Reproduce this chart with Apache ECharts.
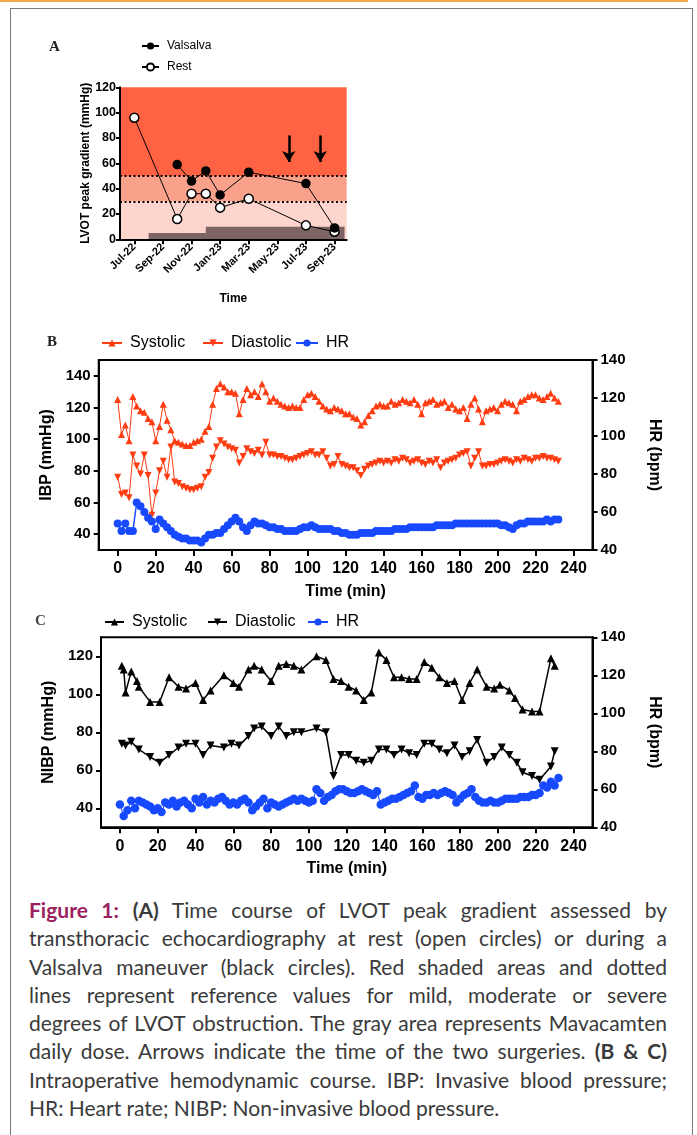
<!DOCTYPE html>
<html><head><meta charset="utf-8">
<script src="https://cdn.jsdelivr.net/npm/echarts@6/dist/echarts.min.js"></script>
<style>
html,body{margin:0;padding:0;background:#fff;width:697px;height:1135px;overflow:hidden;}
#topline{position:absolute;left:0;top:0;width:688px;height:2px;background:#f5a84b;}
#frame{position:absolute;left:10px;top:8px;width:683px;height:1160px;border:1px solid #7a7a7a;box-sizing:border-box;}
#chart{position:absolute;left:0;top:0;width:697px;height:890px;}
#caption{position:absolute;left:29px;top:896px;width:638px;font-family:Lato,'Open Sans',sans-serif;font-size:21px;line-height:28.3px;color:#3a3a3a;}
#caption .l{white-space:nowrap;text-align:justify;text-align-last:justify;}
#caption.m .l{text-align:left;text-align-last:left;}
#caption .last{text-align:left;text-align-last:left;}
.fig{color:#9c1f5f;font-weight:bold;}
</style></head>
<body>
<div id="topline"></div>
<div id="frame"></div>
<div id="chart"></div>
<div id="caption">
<div class="l"><span><span class="fig">Figure 1:</span> <b>(A)</b> Time course of LVOT peak gradient assessed by</span></div>
<div class="l"><span>transthoracic echocardiography at rest (open circles) or during a</span></div>
<div class="l"><span>Valsalva maneuver (black circles). Red shaded areas and dotted</span></div>
<div class="l"><span>lines represent reference values for mild, moderate or severe</span></div>
<div class="l"><span>degrees of LVOT obstruction. The gray area represents Mavacamten</span></div>
<div class="l"><span>daily dose. Arrows indicate the time of the two surgeries. <b>(B &amp; C)</b></span></div>
<div class="l"><span>Intraoperative hemodynamic course. IBP: Invasive blood pressure;</span></div>
<div class="l last"><span>HR: Heart rate; NIBP: Non-invasive blood pressure.</span></div>
</div>
<script>
// ---------- Panel A data ----------
const aTickMonths = [0, 2, 4, 6, 8, 10, 12, 14];
const aTickLabels = ['Jul-22', 'Sep-22', 'Nov-22', 'Jan-23', 'Mar-23', 'May-23', 'Jul-23', 'Sep-23'];
const restMonths = [0, 3, 4, 5, 6, 8, 12, 14];
const restGradient = [96, 16, 36, 36, 25, 32, 11, 6];
const valsalvaMonths = [3, 4, 5, 6, 8, 12, 14];
const valsalvaGradient = [59, 46, 54, 35, 53, 44, 9];
const doseMonths = [1, 5, 14.7];
const doseLevel = [5, 10, 10];
const severityLimits = [0, 30, 50, 120];
const dottedLevels = [50, 30];
const surgeryMonths = [10.8, 13];
const arrowSpan = [82, 61];

// ---------- Panels B & C shared ----------
const timeTicks = [0, 20, 40, 60, 80, 100, 120, 140, 160, 180, 200, 220, 240];
const ibpTicks = [40, 60, 80, 100, 120, 140];
const nibpTicks = [40, 60, 80, 100, 120];
const tMin = [0,2,4,6,8,10,12,14,16,18,20,22,24,26,28,30,32,34,36,38,40,42,44,46,48,50,52,54,56,58,
  60,62,64,66,68,70,72,74,76,78,80,82,84,86,88,90,92,94,96,98,100,102,104,106,108,110,112,114,116,118,
  120,122,124,126,128,130,132,134,136,138,140,142,144,146,148,150,152,154,156,158,160,162,164,166,168,170,
  172,174,176,178,180,182,184,186,188,190,192,194,196,198,200,202,204,206,208,210,212,214,216,218,220,222,
  224,226,228,230,232];

// ---------- Panel B (IBP) ----------
const ibpSys = [125,103,109,99,127,121,118,117,113,111,
  99,108,122,112,106,99,98,97,96,96,
  98,99,100,105,108,122,132,135,133,130,
  130,129,116,125,132,128,130,127,135,130,
  124,126,124,122,121,120,121,120,120,125,
  128,129,127,124,121,119,118,120,119,118,
  116,116,114,113,109,111,115,118,121,122,
  121,121,124,122,123,125,124,123,125,122,
  116,123,124,125,122,123,124,120,122,119,
  118,120,113,122,126,119,111,118,119,120,
  118,122,124,123,122,118,124,125,127,128,
  128,126,125,127,129,126,124];
const ibpDia = [76,65,66,63,90,83,78,90,77,52,
  66,80,86,76,95,73,72,70,69,68,
  68,69,70,76,79,88,95,99,97,95,
  94,93,85,89,94,92,91,93,90,98,
  90,90,89,89,88,87,87,88,89,90,
  91,92,90,90,92,88,83,84,89,84,
  83,82,82,80,77,81,83,84,85,86,
  85,86,85,87,86,88,87,85,86,87,
  85,84,86,85,87,82,85,86,87,88,
  90,91,92,83,88,92,83,83,84,84,
  85,86,87,86,85,87,86,88,87,86,
  88,88,89,88,88,87,86];
const hrB = [54,50,54,50,50,65,63,60,57,55,
  51,56,54,52,50,48,47,46,46,45,
  45,45,44,46,48,48,49,49,51,53,
  55,57,55,52,50,53,55,54,54,53,
  52,52,51,51,50,50,50,50,51,52,
  52,53,52,51,51,51,51,50,50,49,
  49,48,48,48,49,49,49,49,50,50,
  50,50,50,51,51,51,51,52,52,52,
  52,52,52,52,53,53,53,53,53,54,
  54,54,54,54,54,54,54,54,54,54,
  54,53,53,52,51,53,54,54,55,55,
  55,55,55,56,55,56,56];

// ---------- Panel C (NIBP) ----------
const nibpSysT = [1,2,3,6,9,10,16,21,26,31,35,40,44,48,55,60,63,68,71,75,80,84,88,92,96,104,109,113,117,121,
  125,129,133,137,141,145,149,153,157,161,165,169,173,177,181,185,189,194,198,201,206,209,213,218,222,228,230];
const nibpSys = [115,113,101,112,107,104,96,96,109,104,103,106,97,102,110,106,104,113,115,113,
  107,115,116,115,113,120,118,108,107,104,102,97,101,122,118,109,109,108,108,117,
  114,109,106,107,97,106,113,104,103,105,102,98,92,91,91,119,115];
const nibpDiaT = [1,3,6,10,16,21,26,31,35,40,44,48,55,59,63,68,71,75,80,84,88,92,96,104,109,113,117,121,125,129,
  133,137,141,145,149,153,157,161,165,169,173,177,181,185,189,194,198,202,206,210,213,218,222,228,230];
const nibpDia = [74,73,75,71,67,64,68,72,74,74,68,73,72,74,73,78,82,83,78,83,
  78,80,80,82,80,57,68,68,65,64,65,71,71,68,71,69,68,74,74,71,
  69,73,67,70,76,64,67,72,68,64,59,57,55,62,70];
const hrC = [52,46,49,54,50,54,53,52,51,49,
  50,48,53,52,54,51,53,54,52,50,
  55,53,56,52,54,53,55,56,54,52,
  53,52,54,55,53,49,51,53,55,50,
  53,52,51,52,53,54,55,54,55,54,
  53,54,60,58,54,56,57,59,60,60,
  59,58,58,59,60,59,58,57,59,52,
  53,54,55,55,56,57,58,59,62,56,
  55,57,57,58,57,58,59,58,57,53,
  55,57,58,60,56,54,53,53,54,53,
  53,54,55,55,55,55,56,56,56,57,
  57,58,62,61,64,62,66];

// ---------- helpers ----------
const zip = (xs, ys) => xs.map((x, i) => [x, ys[i]]);
const FONT = "'Liberation Sans', Arial, Helvetica, sans-serif";
const RED = '#ff3c12', BLUE = '#1749ff', BLACK = '#000';
const axLine = () => ({ show: true, onZero: false, lineStyle: { color: BLACK, width: 2 } });
const tick = (len) => ({ show: true, length: len, lineStyle: { color: BLACK, width: 2 } });
const lbl = (size, margin, extra) => Object.assign({ color: BLACK, fontWeight: 'bold', fontSize: size, margin: margin, fontFamily: FONT }, extra || {});
const nameStyle = (size) => ({ color: BLACK, fontWeight: 'bold', fontSize: size, fontFamily: FONT });

function legendItem(name, left, top, size, iw, ih, strip) {
  return {
    data: [name], left: left, top: top, padding: 0, itemWidth: iw, itemHeight: ih, itemGap: 0,
    selectedMode: false,
    formatter: strip ? (n) => n.slice(2) : (n) => n,
    textStyle: { fontSize: size, color: BLACK, fontFamily: FONT, lineHeight: size + 2, padding: [0, 0, 0, 3] }
  };
}

const bandColors = ['#fdd5cc', '#f9a18b', '#ff6343'];
const bandAreas = [];
for (let i = 0; i < severityLimits.length - 1; i++) {
  bandAreas.push([{ yAxis: severityLimits[i], itemStyle: { color: bandColors[i] } }, { yAxis: severityLimits[i + 1] }]);
}

const chart = echarts.init(document.getElementById('chart'), null, { renderer: 'canvas' });
const option = {
  animation: false,
  backgroundColor: 'transparent',
  textStyle: { fontFamily: FONT },
  graphic: [
    { type: 'text', left: 49, top: 40, style: { text: 'A', font: "bold 15px 'Liberation Serif', serif", fill: '#222' } },
    { type: 'text', left: 47, top: 335, style: { text: 'B', font: "bold 15px 'Liberation Serif', serif", fill: '#222' } },
    { type: 'text', left: 35, top: 614, style: { text: 'C', font: "bold 15px 'Liberation Serif', serif", fill: '#444' } }
  ],
  legend: [
    legendItem('Valsalva', 141, 39, 12, 17, 9, false),
    legendItem('Rest', 141, 60, 12, 17, 9, false),
    legendItem('B-Systolic', 101, 334, 16, 20, 9, true),
    legendItem('B-Diastolic', 202, 334, 16, 20, 9, true),
    legendItem('B-HR', 295, 334, 16, 22, 9, true),
    legendItem('C-Systolic', 104, 613, 16, 19, 9, true),
    legendItem('C-Diastolic', 207, 613, 16, 19, 9, true),
    legendItem('C-HR', 307, 613, 16, 20, 9, true)
  ],
  grid: [
    { left: 120, top: 87.3, width: 226.7, height: 152 },
    { left: 98.7, top: 360, width: 493.8, height: 190, show: true, borderColor: BLACK, borderWidth: 2, backgroundColor: 'transparent' },
    { left: 101, top: 637.3, width: 491.5, height: 190, show: true, borderColor: BLACK, borderWidth: 2, backgroundColor: 'transparent' }
  ],
  xAxis: [
    {
      gridIndex: 0, type: 'value', min: -1, max: 14.85, z: 10,
      axisLine: axLine(), axisTick: Object.assign(tick(5), { customValues: aTickMonths }),
      axisLabel: lbl(11, 6, { rotate: 45, customValues: aTickMonths, formatter: (v) => { const i = aTickMonths.indexOf(v); return i >= 0 ? aTickLabels[i] : ''; } }),
      splitLine: { show: false },
      name: 'Time', nameLocation: 'middle', nameGap: 53, nameTextStyle: nameStyle(12)
    },
    {
      gridIndex: 1, type: 'value', min: -10, max: 250, z: 10,
      axisLine: axLine(), axisTick: Object.assign(tick(6), { customValues: timeTicks }),
      axisLabel: lbl(16, 11, { customValues: timeTicks }),
      splitLine: { show: false },
      name: 'Time (min)', nameLocation: 'middle', nameGap: 34, nameTextStyle: nameStyle(16)
    },
    {
      gridIndex: 2, type: 'value', min: -10, max: 250, z: 10,
      axisLine: axLine(), axisTick: Object.assign(tick(6), { customValues: timeTicks }),
      axisLabel: lbl(16, 11, { customValues: timeTicks }),
      splitLine: { show: false },
      name: 'Time (min)', nameLocation: 'middle', nameGap: 33, nameTextStyle: nameStyle(16)
    }
  ],
  yAxis: [
    {
      gridIndex: 0, type: 'value', min: 0, max: 120, interval: 20, position: 'left', z: 10,
      axisLine: axLine(), axisTick: tick(4),
      axisLabel: lbl(12.5, 4), splitLine: { show: false },
      name: 'LVOT peak gradient (mmHg)', nameLocation: 'middle', nameGap: 28, nameTextStyle: nameStyle(12)
    },
    {
      gridIndex: 1, type: 'value', min: 30, max: 150, position: 'left', z: 10,
      axisLine: axLine(), axisTick: Object.assign(tick(5), { customValues: ibpTicks }),
      axisLabel: lbl(15, 8, { customValues: ibpTicks }), splitLine: { show: false },
      name: 'IBP (mmHg)', nameLocation: 'middle', nameGap: 33, nameTextStyle: nameStyle(16)
    },
    {
      gridIndex: 1, type: 'value', min: 40, max: 140, interval: 20, position: 'right', z: 10,
      axisLine: axLine(), axisTick: tick(5),
      axisLabel: lbl(15, 8), splitLine: { show: false },
      name: 'HR (bpm)', nameLocation: 'middle', nameRotate: -90, nameGap: 54, nameTextStyle: nameStyle(16)
    },
    {
      gridIndex: 2, type: 'value', min: 30, max: 130, position: 'left', z: 10,
      axisLine: axLine(), axisTick: Object.assign(tick(5), { customValues: nibpTicks }),
      axisLabel: lbl(15, 8, { customValues: nibpTicks }), splitLine: { show: false },
      name: 'NIBP (mmHg)', nameLocation: 'middle', nameGap: 34, nameTextStyle: nameStyle(16)
    },
    {
      gridIndex: 2, type: 'value', min: 40, max: 140, interval: 20, position: 'right', z: 10,
      axisLine: axLine(), axisTick: tick(5),
      axisLabel: lbl(15, 8), splitLine: { show: false },
      name: 'HR (bpm)', nameLocation: 'middle', nameRotate: -90, nameGap: 54, nameTextStyle: nameStyle(16)
    }
  ],
  series: [
    {
      name: 'dose', type: 'line', xAxisIndex: 0, yAxisIndex: 0, step: 'end', z: 2,
      data: zip(doseMonths, doseLevel), showSymbol: false, symbol: 'none',
      lineStyle: { width: 0, color: '#7d6563' }, areaStyle: { color: '#7d6563', opacity: 1 },
      markArea: { silent: true, label: { show: false }, data: bandAreas },
      markLine: {
        silent: true, symbol: 'none', label: { show: false },
        lineStyle: { color: BLACK, width: 2, type: [2, 2.5] },
        data: dottedLevels.map((v) => ({ yAxis: v }))
      }
    },
    {
      name: 'Rest', type: 'line', xAxisIndex: 0, yAxisIndex: 0, z: 7,
      data: zip(restMonths, restGradient), symbol: 'circle', symbolSize: 9,
      itemStyle: { color: '#fff', borderColor: BLACK, borderWidth: 1.5 },
      lineStyle: { color: BLACK, width: 1 }
    },
    {
      name: 'Valsalva', type: 'line', xAxisIndex: 0, yAxisIndex: 0, z: 8,
      data: zip(valsalvaMonths, valsalvaGradient), symbol: 'circle', symbolSize: 9.5,
      itemStyle: { color: BLACK }, lineStyle: { color: BLACK, width: 1 },
      markLine: {
        silent: true, symbol: ['none', 'arrow'], symbolSize: [10, 11], label: { show: false },
        lineStyle: { color: BLACK, width: 2.5, type: 'solid' },
        data: surgeryMonths.map((m) => [{ coord: [m, arrowSpan[0]] }, { coord: [m, arrowSpan[1]] }])
      }
    },
    {
      name: 'B-Systolic', type: 'line', xAxisIndex: 1, yAxisIndex: 1,
      data: zip(tMin, ibpSys), symbol: 'triangle', symbolSize: 7,
      itemStyle: { color: RED }, lineStyle: { color: RED, width: 1 }
    },
    {
      name: 'B-Diastolic', type: 'line', xAxisIndex: 1, yAxisIndex: 1,
      data: zip(tMin, ibpDia), symbol: 'triangle', symbolRotate: 180, symbolSize: 7,
      itemStyle: { color: RED }, lineStyle: { color: RED, width: 1 }
    },
    {
      name: 'B-HR', type: 'line', xAxisIndex: 1, yAxisIndex: 2,
      data: zip(tMin, hrB), symbol: 'circle', symbolSize: 8,
      itemStyle: { color: BLUE }, lineStyle: { color: BLUE, width: 1.5 }
    },
    {
      name: 'C-Systolic', type: 'line', xAxisIndex: 2, yAxisIndex: 3,
      data: zip(nibpSysT, nibpSys), symbol: 'triangle', symbolSize: 8,
      itemStyle: { color: BLACK }, lineStyle: { color: BLACK, width: 1.5 }
    },
    {
      name: 'C-Diastolic', type: 'line', xAxisIndex: 2, yAxisIndex: 3,
      data: zip(nibpDiaT, nibpDia), symbol: 'triangle', symbolRotate: 180, symbolSize: 8,
      itemStyle: { color: BLACK }, lineStyle: { color: BLACK, width: 1.5 }
    },
    {
      name: 'C-HR', type: 'line', xAxisIndex: 2, yAxisIndex: 4,
      data: zip(tMin, hrC), symbol: 'circle', symbolSize: 8.5,
      itemStyle: { color: BLUE }, lineStyle: { color: BLUE, width: 1 }
    }
  ]
};
chart.setOption(option);

function fitCaption() {
  const cap = document.getElementById('caption');
  cap.style.fontSize = '21px';
  cap.classList.add('m');
  let maxW = 0;
  cap.querySelectorAll('.l:not(.last) > span').forEach((s) => { maxW = Math.max(maxW, s.getBoundingClientRect().width); });
  cap.classList.remove('m');
  if (maxW > 636) cap.style.fontSize = (21 * 636 / maxW).toFixed(2) + 'px';
}
fitCaption();
if (document.fonts && document.fonts.ready) document.fonts.ready.then(fitCaption);
</script>
</body></html>
